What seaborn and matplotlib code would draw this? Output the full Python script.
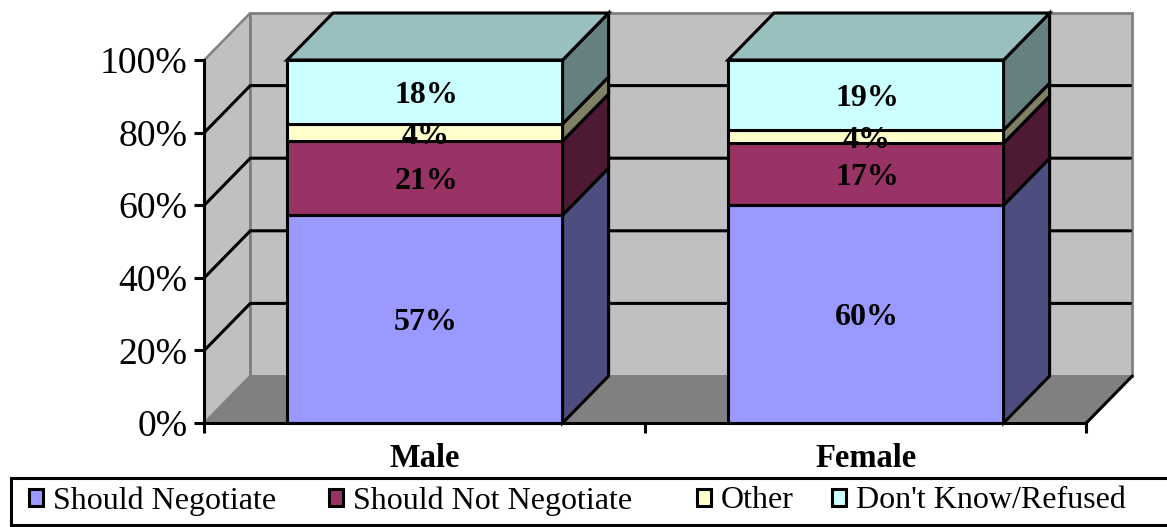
import matplotlib
matplotlib.use("Agg")
import matplotlib.pyplot as plt
import numpy as np
import pandas as pd
import seaborn as sns
from matplotlib.patches import Patch, Polygon, Rectangle

# ---- data ----
categories = ["Male", "Female"]
series_names = ["Should Negotiate", "Should Not Negotiate", "Other", "Don't Know/Refused"]
should_negotiate = [57.3, 60.0]
should_not_negotiate = [20.4, 17.1]
other = [4.7, 3.6]
dont_know = [17.6, 19.3]
label_negotiate = ["57%", "60%"]
label_not_negotiate = ["21%", "17%"]
label_other = ["4%", "4%"]
label_dont_know = ["18%", "19%"]
y_ticks = [0, 20, 40, 60, 80, 100]

# ---- style ----
front_colors = ["#9999FF", "#993366", "#FFFFCC", "#CCFFFF"]
side_colors = ["#4D4D80", "#4D1933", "#808066", "#668080"]
top_color = "#99BFBF"
wall_color = "#C0C0C0"
floor_color = "#808080"
LW = 2.2

sns.set_theme(style="white")
plt.rcParams["font.family"] = ["Liberation Serif", "DejaVu Serif"]

W, H = 1167, 527
fig = plt.figure(figsize=(W / 100, H / 100), dpi=100, facecolor="white")
ax = fig.add_axes([204.3 / W, (H - 423) / H, 882 / W, 363 / H])
ax.patch.set_visible(False)

XMIN, XMAX = -0.5, 1.5
DX = 46 / 441   # depth offset, category units
DY = 47 / 3.63  # depth offset, percent units
BAR_W = 0.625

series_values = [should_negotiate, should_not_negotiate, other, dont_know]
series_labels = [label_negotiate, label_not_negotiate, label_other, label_dont_know]


def poly(points, fc, ec="black", lw=LW, z=1):
    ax.add_patch(Polygon(points, closed=True, facecolor=fc, edgecolor=ec,
                         linewidth=lw, zorder=z, clip_on=False, joinstyle="miter"))


# walls and floor
poly([(XMIN, 0), (XMIN, 100), (XMIN + DX, 100 + DY), (XMIN + DX, DY)], wall_color, "#808080", 1.8, 0.2)
poly([(XMIN + DX, DY), (XMIN + DX, 100 + DY), (XMAX + DX, 100 + DY), (XMAX + DX, DY)], wall_color, "#808080", 2.0, 0.2)
poly([(XMIN, 0), (XMIN + DX, DY), (XMAX + DX, DY), (XMAX, 0)], floor_color, "#808080", 1.2, 0.3)

# gridlines on the walls
for t in y_ticks[1:-1]:
    ax.plot([XMIN, XMIN + DX, XMAX + DX - 0.004], [t, t + DY, t + DY], color="black",
            lw=LW, zorder=0.5, clip_on=False, solid_joinstyle="miter")
ax.plot([XMAX, XMAX + DX], [0, DY], color="black", lw=LW, zorder=0.6, clip_on=False)

# front faces (stacked bars)
cum = np.zeros(len(categories))
for vals, color, name in zip(series_values, front_colors, series_names):
    df = pd.DataFrame({"group": categories, "share": vals})
    sns.barplot(data=df, x="group", y="share", order=categories, color=color, saturation=1,
                width=BAR_W, bottom=cum, edgecolor="black", linewidth=LW, errorbar=None,
                ax=ax, zorder=2, clip_on=False)
    cum = cum + np.array(vals)

# side and top faces
cum = np.zeros(len(categories))
for vals, side, labels in zip(series_values, side_colors, series_labels):
    for i, v in enumerate(vals):
        r = i + BAR_W / 2
        poly([(r, cum[i]), (r + DX, cum[i] + DY), (r + DX, cum[i] + v + DY), (r, cum[i] + v)],
             side, z=2)
        ax.text(i + 0.003, cum[i] + v / 2 - 1.0, labels[i], ha="center", va="center",
                fontsize=23, fontweight="bold", color="black", zorder=5)
    cum = cum + np.array(vals)
for i, total in enumerate(cum):
    l, r = i - BAR_W / 2, i + BAR_W / 2
    poly([(l, total), (l + DX, total + DY), (r + DX, total + DY), (r, total)], top_color, z=2)

# axes
ax.set_xlim(XMIN, XMAX)
ax.set_ylim(0, 100)
ax.set_xlabel("")
ax.set_ylabel("")
ax.set_yticks(y_ticks)
ax.set_yticklabels([f"{t}%" for t in y_ticks])
ax.tick_params(axis="y", which="major", left=True, length=7, width=LW, color="black",
               labelsize=27.2, labelcolor="black", pad=5)
ax.set_xticks([-0.5, 0.5, 1.5])
ax.set_xticklabels(["", "", ""])
ax.set_xticks([0, 1], minor=True)
ax.set_xticklabels(categories, minor=True, fontsize=23.5, fontweight="bold", color="black")
ax.tick_params(axis="x", which="major", bottom=True, length=7, width=LW, color="black")
ax.tick_params(axis="x", which="minor", bottom=False, length=0, pad=14.5)
for name, spine in ax.spines.items():
    spine.set_visible(name in ("left", "bottom"))
    spine.set_color("black")
    spine.set_linewidth(LW)
    spine.set_zorder(6)

# legend band
fig.add_artist(Rectangle((11 / W, (H - 525) / H), (W + 20 - 11) / W, 47 / H,
                         transform=fig.transFigure, facecolor="white", edgecolor="black",
                         linewidth=LW, zorder=0))
legend_x = [29, 329, 697, 832]
for x, name, color in zip(legend_x, series_names, front_colors):
    handle = Patch(facecolor=color, edgecolor="black", linewidth=LW)
    fig.legend(handles=[handle], labels=[name], loc="center left",
               bbox_to_anchor=(x / W, (H - 501) / H), frameon=False, fontsize=23,
               borderpad=0, borderaxespad=0, handlelength=0.45, handleheight=0.45,
               handletextpad=0.3, labelcolor="black")

fig.savefig("out.png", dpi=100)
